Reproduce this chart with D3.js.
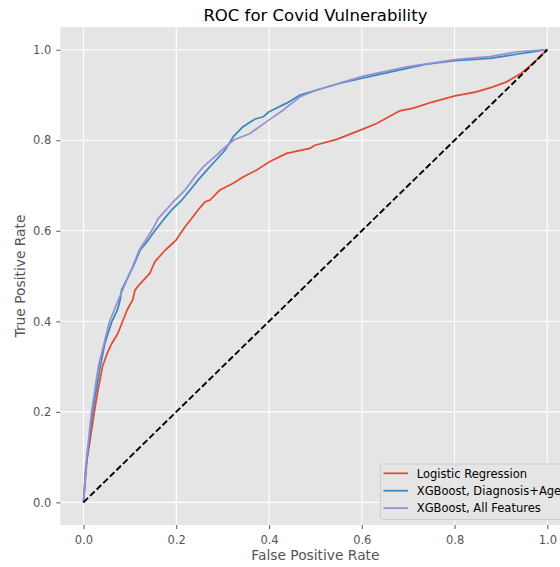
<!DOCTYPE html>
<html><head><meta charset="utf-8">
<script src="https://cdn.jsdelivr.net/npm/d3@7"></script>
<style>body{margin:0;background:#fff;} text{font-family:"DejaVu Sans",sans-serif;}</style>
</head><body><svg id="c" width="560" height="567"></svg>
<script>
const ticks = [0, 0.2, 0.4, 0.6, 0.8, 1.0];
const tickLabels = ["0.0", "0.2", "0.4", "0.6", "0.8", "1.0"];
const seriesNames = ["Logistic Regression", "XGBoost, Diagnosis+Age", "XGBoost, All Features"];
const seriesColors = ["#E24A33", "#348ABD", "#988ED5"];

const lrFpr = [0, 0.005, 0.013, 0.023, 0.030, 0.041, 0.051, 0.061, 0.074, 0.084, 0.094, 0.106, 0.111, 0.123, 0.143, 0.154, 0.176, 0.200, 0.219, 0.233, 0.247, 0.262, 0.273, 0.294, 0.323, 0.344, 0.373, 0.402, 0.438, 0.488, 0.499, 0.546, 0.601, 0.632, 0.682, 0.711, 0.754, 0.801, 0.847, 0.883, 0.912, 0.944, 0.969, 1.0];
const lrTpr = [0, 0.079, 0.130, 0.197, 0.241, 0.300, 0.329, 0.351, 0.373, 0.399, 0.425, 0.447, 0.469, 0.484, 0.506, 0.532, 0.557, 0.580, 0.609, 0.627, 0.646, 0.664, 0.668, 0.690, 0.705, 0.719, 0.734, 0.753, 0.771, 0.782, 0.789, 0.802, 0.824, 0.837, 0.865, 0.871, 0.885, 0.898, 0.907, 0.918, 0.929, 0.948, 0.970, 1.0];

const xgbDaFpr = [0, 0.008, 0.019, 0.036, 0.046, 0.061, 0.073, 0.079, 0.082, 0.107, 0.122, 0.140, 0.154, 0.172, 0.190, 0.212, 0.230, 0.247, 0.266, 0.283, 0.305, 0.323, 0.344, 0.370, 0.388, 0.400, 0.438, 0.467, 0.503, 0.553, 0.601, 0.653, 0.697, 0.740, 0.801, 0.876, 0.934, 1.0];
const xgbDaTpr = [0, 0.100, 0.197, 0.300, 0.351, 0.399, 0.425, 0.447, 0.469, 0.521, 0.557, 0.580, 0.600, 0.624, 0.646, 0.668, 0.690, 0.712, 0.734, 0.753, 0.778, 0.808, 0.830, 0.847, 0.852, 0.863, 0.882, 0.900, 0.911, 0.926, 0.937, 0.949, 0.959, 0.968, 0.976, 0.981, 0.990, 1.0];

const xgbAllFpr = [0, 0.007, 0.017, 0.032, 0.056, 0.075, 0.106, 0.120, 0.147, 0.161, 0.197, 0.219, 0.240, 0.258, 0.287, 0.298, 0.323, 0.359, 0.400, 0.431, 0.467, 0.503, 0.601, 0.697, 0.801, 0.876, 0.934, 1.0];
const xgbAllTpr = [0, 0.100, 0.197, 0.300, 0.399, 0.447, 0.521, 0.557, 0.600, 0.627, 0.668, 0.690, 0.719, 0.741, 0.767, 0.778, 0.800, 0.815, 0.845, 0.867, 0.896, 0.911, 0.941, 0.962, 0.978, 0.985, 0.995, 1.0];

const chanceFpr = [0, 1];
const chanceTpr = [0, 1];

const svg = d3.select("#c");
const L = 60.3, R = 570.5, T = 27.1, B = 525;
const x = d3.scaleLinear().domain([-0.05, 1.05]).range([L, R]);
const y = d3.scaleLinear().domain([-0.05, 1.05]).range([B, T]);

svg.append("defs").append("clipPath").attr("id","clip").append("rect")
  .attr("x", L).attr("y", T).attr("width", R - L).attr("height", B - T);

svg.append("rect").attr("x", L).attr("y", T).attr("width", R - L).attr("height", B - T).attr("fill", "#E5E5E5");

// grid
const g = svg.append("g");
g.selectAll(".vg").data(ticks).join("line").attr("class","vg")
  .attr("x1", d => x(d)).attr("x2", d => x(d)).attr("y1", T).attr("y2", B)
  .attr("stroke", "#fff").attr("stroke-width", 1.1);
g.selectAll(".hg").data(ticks).join("line").attr("class","hg")
  .attr("y1", d => y(d)).attr("y2", d => y(d)).attr("x1", L).attr("x2", R)
  .attr("stroke", "#fff").attr("stroke-width", 1.1);

// axes
const xAxis = d3.axisBottom(x).tickValues(ticks).tickFormat((d, i) => tickLabels[i]).tickSize(4).tickPadding(4);
const yAxis = d3.axisLeft(y).tickValues(ticks).tickFormat((d, i) => tickLabels[i]).tickSize(4).tickPadding(5);
const xa = svg.append("g").attr("transform", `translate(0,${B})`).call(xAxis);
const ya = svg.append("g").attr("transform", `translate(${L},0)`).call(yAxis);
[xa, ya].forEach(a => {
  a.select(".domain").remove();
  a.selectAll(".tick line").attr("stroke", "#555555");
  a.selectAll(".tick text").attr("fill", "#555555").style("font-size", "11.5px").style("font-family", "DejaVu Sans");
});
xa.selectAll(".tick text").attr("dy", null).attr("y", 19.3);

// curves
const line = d3.line().x(d => x(d[0])).y(d => y(d[1]));
const curves = [[lrFpr, lrTpr], [xgbDaFpr, xgbDaTpr], [xgbAllFpr, xgbAllTpr]];
const pg = svg.append("g").attr("clip-path", "url(#clip)");
curves.forEach((c, i) => {
  pg.append("path").datum(d3.zip(c[0], c[1])).attr("d", line)
    .attr("fill", "none").attr("stroke", seriesColors[i]).attr("stroke-width", 1.75)
    .attr("stroke-linejoin", "round");
});
pg.append("path").datum(d3.zip(chanceFpr, chanceTpr)).attr("d", line)
  .attr("fill", "none").attr("stroke", "#000").attr("stroke-width", 1.9)
  .attr("stroke-dasharray", "6.4,2.8");

// title & labels
svg.append("text").attr("x", (L + R) / 2).attr("y", 20.5).attr("text-anchor", "middle")
  .style("font-size", "16.5px").attr("fill", "#000").text("ROC for Covid Vulnerability");
svg.append("text").attr("x", (L + R) / 2).attr("y", 559.5).attr("text-anchor", "middle")
  .style("font-size", "13.8px").attr("fill", "#555555").text("False Positive Rate");
svg.append("text").attr("transform", `translate(25,${(T + B) / 2}) rotate(-90)`).attr("text-anchor", "middle")
  .style("font-size", "13.8px").attr("fill", "#555555").text("True Positive Rate");

// legend
const lg = svg.append("g");
const lx = 380.5, ly = 464, lw = 185, lh = 55.5;
lg.append("rect").attr("x", lx).attr("y", ly).attr("width", lw).attr("height", lh).attr("rx", 2)
  .attr("fill", "#E5E5E5").attr("fill-opacity", 0.8).attr("stroke", "#CCCCCC").attr("stroke-width", 1);
seriesNames.forEach((n, i) => {
  const yy = ly + 9.3 + i * 17.4;
  lg.append("line").attr("x1", lx + 3).attr("x2", lx + 27.5).attr("y1", yy).attr("y2", yy)
    .attr("stroke", seriesColors[i]).attr("stroke-width", 1.75);
  lg.append("text").attr("x", lx + 36.3).attr("y", yy + 4.2).style("font-size", "11.5px").attr("fill", "#000").text(n);
});
</script></body></html>
